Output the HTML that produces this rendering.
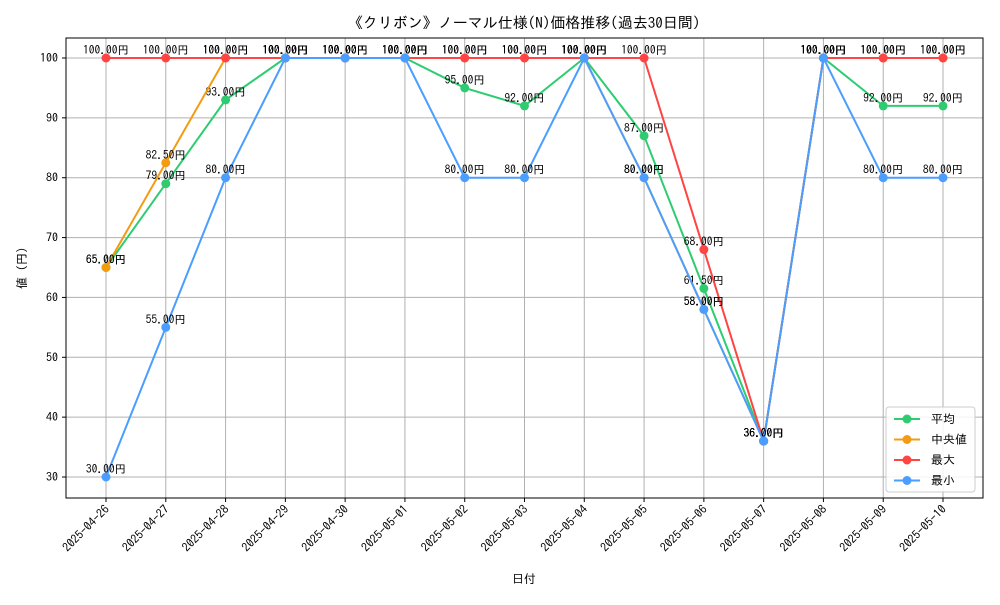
<!DOCTYPE html>
<html><head><meta charset="utf-8">
<style>
body{margin:0;background:#fff;}
svg{font-family:"IPAGothic","Noto Sans CJK JP",sans-serif;}
</style></head>
<body>
<svg id="chart" width="1000" height="600" viewBox="0 0 1000 600" xmlns="http://www.w3.org/2000/svg">
<rect width="1000" height="600" fill="#fff"/>
<text x="524" y="28" text-anchor="middle" font-size="15">《クリボン》ノーマル仕様(N)価格推移(過去30日間)</text>
<g id="grid"></g>
<g id="axes"></g>
<g id="series"></g>
<rect x="66" y="38" width="917" height="460" fill="none" stroke="#000" stroke-width="1"/>
<text x="524" y="583" text-anchor="middle" font-size="12">日付</text>
<text transform="translate(26,268) rotate(-90)" text-anchor="middle" font-size="12">値 (円)</text>
<g id="legend"></g>
</svg>
<script>
const dates=["2025-04-26","2025-04-27","2025-04-28","2025-04-29","2025-04-30","2025-05-01","2025-05-02","2025-05-03","2025-05-04","2025-05-05","2025-05-06","2025-05-07","2025-05-08","2025-05-09","2025-05-10"];
const avgValues=[65,79,93,100,100,100,95,92,100,87,61.5,36,100,92,92];
const medianValues=[65,82.5,100,100,100,100,100,100,100,80,58,36,100,100,100];
const maxValues=[100,100,100,100,100,100,100,100,100,100,68,36,100,100,100];
const minValues=[30,55,80,100,100,100,80,80,100,80,58,36,100,80,80];
const yTicks=[30,40,50,60,70,80,90,100];
const seriesNames=["平均","中央値","最大","最小"];
const seriesColors=["#2ecc71","#f39c12","#ff4444","#4a9eff"];
const NS="http://www.w3.org/2000/svg";
const x=i=>106+i*(943-106)/(dates.length-1);
const y=v=>58+(100-v)*(477-58)/70;
function mk(tag,attrs,parent){const e=document.createElementNS(NS,tag);for(const k in attrs)e.setAttribute(k,attrs[k]);parent.appendChild(e);return e;}
const grid=document.getElementById('grid'),axes=document.getElementById('axes'),ser=document.getElementById('series'),leg=document.getElementById('legend');
yTicks.forEach(t=>{
 const l=mk('line',{x1:66,x2:983,y1:y(t),y2:y(t),stroke:'#b0b0b0','stroke-width':1},grid);
 
 
 const tk=mk('line',{x1:62,x2:66,y1:y(t),y2:y(t),stroke:'#000'},axes);
 
 
 const tx=mk('text',{x:58,y:y(t)+4,'text-anchor':'end','font-size':12},axes);
 tx.textContent=t;
 
 
});
dates.forEach((d,i)=>{
 const l=mk('line',{x1:x(i),x2:x(i),y1:38,y2:498,stroke:'#b0b0b0','stroke-width':1},grid);
 
 
 const tk=mk('line',{x1:x(i),x2:x(i),y1:498,y2:502,stroke:'#000'},axes);
 
 
 const tx=mk('text',{x:0,y:0,'text-anchor':'end','font-size':12,transform:`translate(${x(i)+4},${510}) rotate(-45)`},axes);
 tx.textContent=d;
 
 
});
const all=[avgValues,medianValues,maxValues,minValues];
all.forEach((vals,s)=>{
 const g=mk('g',{},ser);
 
 
 const p=mk('polyline',{points:vals.map((v,i)=>x(i)+','+y(v)).join(' '),fill:'none',stroke:seriesColors[s],'stroke-width':2},g);
 
 
 vals.forEach((v,i)=>{
  const c=mk('circle',{cx:x(i),cy:y(v),r:4.5,fill:seriesColors[s]},g);
  
  
  const t=mk('text',{x:x(i),y:y(v)-4,'text-anchor':'middle','font-size':11.5},g);
  t.textContent=v.toFixed(2)+'円';
  
  
 });
});
const lb=mk('rect',{x:886,y:407,width:89,height:85,rx:3,fill:'#fff','fill-opacity':0.85,stroke:'#ccc'},leg);


seriesNames.forEach((n,s)=>{
 const yy=419+s*20.5;
 const g=mk('g',{},leg);
 
 
 mk('line',{x1:894,x2:920,y1:yy,y2:yy,stroke:seriesColors[s],'stroke-width':2},g);
 mk('circle',{cx:907,cy:yy,r:4.5,fill:seriesColors[s]},g);
 const t=mk('text',{x:931,y:yy+4,'font-size':12},g);
 t.textContent=n;
});
</script>
</body></html>
